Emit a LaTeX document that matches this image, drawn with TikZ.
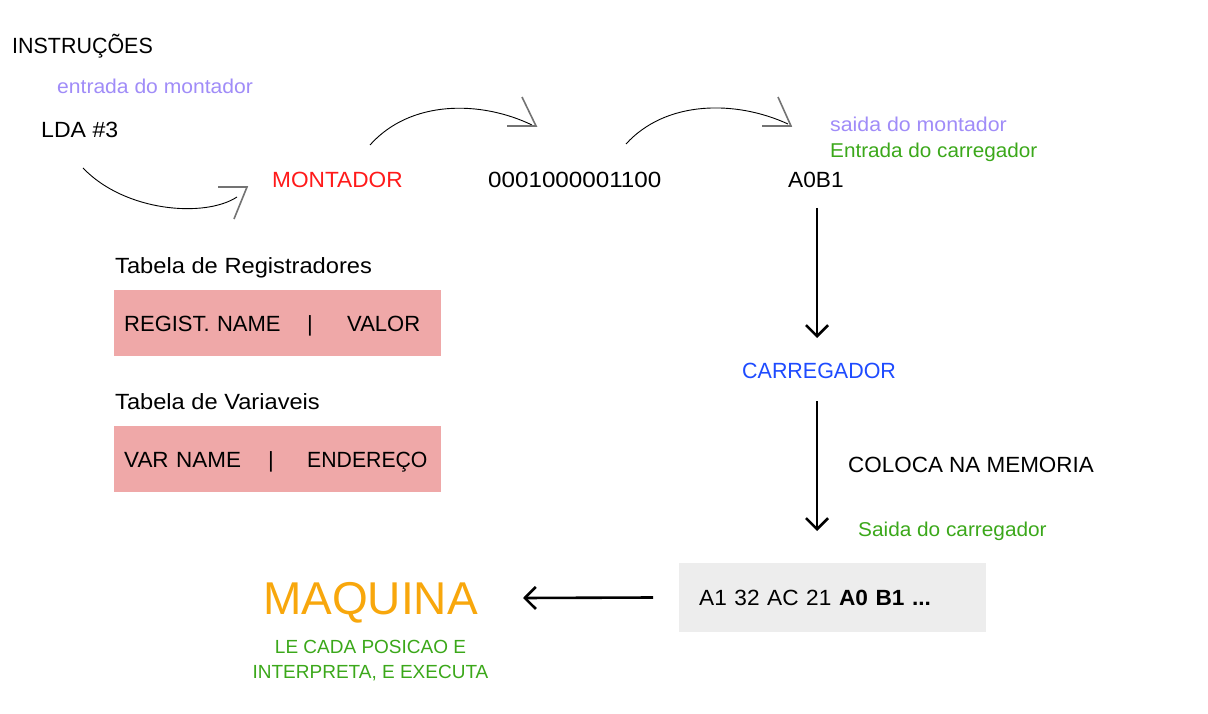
\documentclass[tikz,border=0pt]{standalone}
\usepackage{fontspec}
\setmainfont{Liberation Sans}
\usetikzlibrary{arrows.meta}
\definecolor{cpurple}{HTML}{A08CF8}
\definecolor{cgreen}{HTML}{3BA81A}
\definecolor{cred}{HTML}{FF1A1A}
\definecolor{cblue}{HTML}{1E4BFF}
\definecolor{corange}{HTML}{F8A70C}
\definecolor{cpink}{HTML}{EFA8A8}
\definecolor{cgrey}{HTML}{EDEDED}
\newcommand{\xs}[2]{\scalebox{#1}[1]{#2}}
\tikzset{
  txt/.style={anchor=west,inner sep=0pt,text height=15.8pt,text depth=0pt,font=\fontsize{22}{26}\selectfont},
  small/.style={anchor=west,inner sep=0pt,text height=14.3pt,text depth=0pt,font=\fontsize{20}{24}\selectfont},
  curv/.style={line width=0.9pt,black},
  headl/.style={line width=1.6pt,black!55},
  strarrow/.style={line width=2.6pt,-{Straight Barb[length=11pt,width=22pt,line width=2.6pt]}},
  box/.style={anchor=north west,fill=cpink,minimum width=327pt,minimum height=66pt,text width=307pt,inner xsep=10pt,inner ysep=0pt,text height=15.8pt,text depth=0pt,align=left,font=\fontsize{22}{26}\selectfont}
}
\begin{document}
\begin{tikzpicture}[x=1pt,y=-1pt]
\useasboundingbox[fill=white] (0,0) rectangle (1208,714);
% texts
\node[txt] (instr) at (12,46) {\xs{0.975}{INSTRUÇÕES}};
\node[small,text=cpurple] (entrada) at (57,86) {\xs{1.054}{entrada do montador}};
\node[txt] (lda) at (41,130) {\xs{1.05}{LDA \#3}};
\node[txt,text=cred] (mont) at (272,180) {\xs{1.03}{MONTADOR}};
\node[txt] (bin) at (488,180) {\xs{1.10}{0001000001100}};
\node[txt] (hex) at (788,180) {\xs{1.03}{A0B1}};
\node[small,text=cpurple] (saida) at (830,124) {\xs{1.066}{saida do montador}};
\node[small,text=cgreen] (entcar) at (830,150) {\xs{1.035}{Entrada do carregador}};
\node[txt] (tabreg) at (115,266) {\xs{1.077}{Tabela de Registradores}};
\node[txt] (tabvar) at (115,402) {\xs{1.075}{Tabela de Variaveis}};
\node[txt,text=cblue] (carr) at (742,371) {\xs{0.975}{CARREGADOR}};
\node[txt] (coloca) at (848,465) {\xs{1.02}{COLOCA NA MEMORIA}};
\node[small,text=cgreen] (saicar) at (858,529) {\xs{1.04}{Saida do carregador}};
% boxes
\node[box] (regs) at (114,290)
  {\makebox[183pt][l]{REGIST. NAME}\makebox[40pt][l]{|}VALOR};
\node[box] (vars) at (114,426)
  {\makebox[144pt][l]{\xs{1.02}{VAR NAME}}\makebox[39pt][l]{|}\xs{0.965}{ENDEREÇO}};
\node[anchor=west,fill=cgrey,minimum width=307pt,minimum height=69pt,inner xsep=20pt,inner ysep=0pt,text height=15.8pt,text depth=0pt,text width=267pt,align=left,font=\fontsize{22}{26}\selectfont] (mem) at (679,597.5)
  {\xs{1.03}{A1 32 AC 21 \textbf{A0 B1 ...}}};
\node[anchor=center,inner sep=0pt,text height=33pt,text depth=0pt,text=corange,font=\fontsize{46}{50}\selectfont] (maq) at (370.5,598) {MAQUINA};
\node[anchor=north,inner sep=0pt,align=center,text=cgreen,font=\fontsize{19}{25}\selectfont] (le) at (370.5,640) {LE CADA POSICAO E\\INTERPRETA, E EXECUTA};
% curved arrows
\coordinate (c1s) at (83,168); \coordinate (c1e) at (237,197);
\draw[curv] (c1s) .. controls (125,212) and (205,218) .. (c1e);
\coordinate (h1t) at (247,187);
\draw[headl] (218,187) -- (h1t) -- (234,219);
\coordinate (c2s) at (370,145); \coordinate (c2e) at (532,125);
\draw[curv] (c2s) .. controls (410,100) and (480,100) .. (c2e);
\coordinate (h2t) at (536,126);
\draw[headl] (507,126) -- (h2t) -- (522,97);
\coordinate (c3s) at (626,144); \coordinate (c3e) at (788,124);
\draw[curv] (c3s) .. controls (666,100) and (736,100) .. (c3e);
\coordinate (h3t) at (791,126);
\draw[headl] (762,126) -- (h3t) -- (778,97);
% straight arrows
\coordinate (a1s) at (817,208); \coordinate (a1e) at (817,338);
\coordinate (a2s) at (817,401); \coordinate (a2e) at (817,531);
\coordinate (a3e) at (523,598);
\draw[strarrow] (a1s) -- (a1e);
\draw[strarrow] (a2s) -- (a2e);
\draw[strarrow] ([xshift=-26pt]mem.west) -- (a3e);
\end{tikzpicture}
\end{document}
